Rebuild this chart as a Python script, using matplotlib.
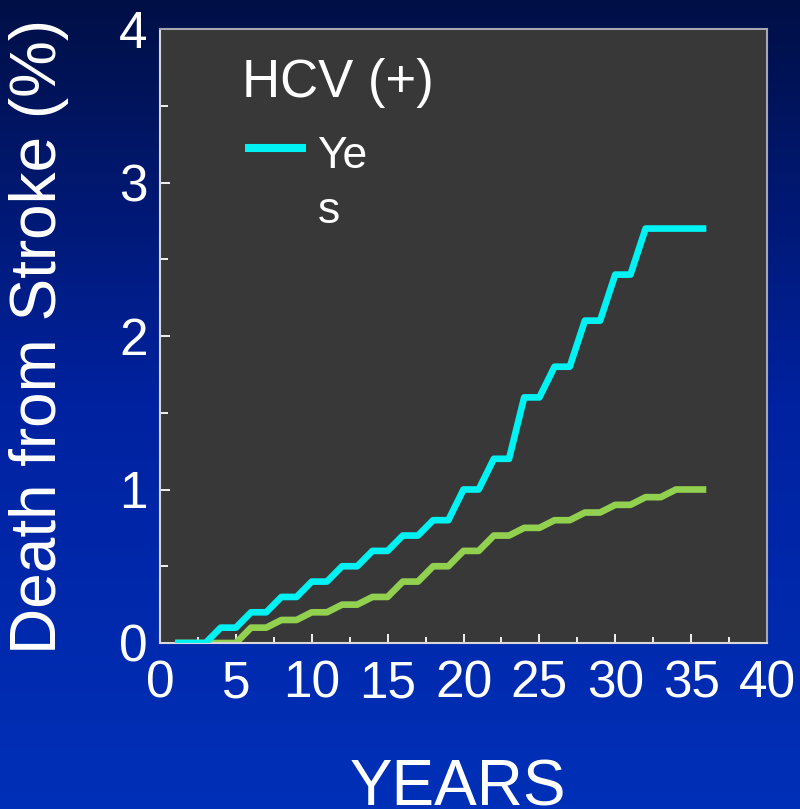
import numpy as np
import matplotlib
matplotlib.use("Agg")
import matplotlib.pyplot as plt
from matplotlib.colors import LinearSegmentedColormap
from matplotlib.ticker import MultipleLocator

plt.rcParams['font.family'] = ['Liberation Sans', 'DejaVu Sans']

# ---- data ----
years = [1, 2, 3, 4, 5, 6, 7, 8, 9, 10, 11, 12, 13, 14, 15, 16, 17, 18,
         19, 20, 21, 22, 23, 24, 25, 26, 27, 28, 29, 30, 31, 32, 33, 34, 35, 36]
hcv_yes = [0, 0, 0, 0.1, 0.1, 0.2, 0.2, 0.3, 0.3, 0.4, 0.4, 0.5, 0.5, 0.6, 0.6,
           0.7, 0.7, 0.8, 0.8, 1.0, 1.0, 1.2, 1.2, 1.6, 1.6, 1.8, 1.8, 2.1, 2.1,
           2.4, 2.4, 2.7, 2.7, 2.7, 2.7, 2.7]
hcv_no = [0, 0, 0, 0, 0, 0.1, 0.1, 0.15, 0.15, 0.2, 0.2, 0.25, 0.25, 0.3, 0.3,
          0.4, 0.4, 0.5, 0.5, 0.6, 0.6, 0.7, 0.7, 0.75, 0.75, 0.8, 0.8, 0.85,
          0.85, 0.9, 0.9, 0.95, 0.95, 1.0, 1.0, 1.0]
x_ticks = [0, 5, 10, 15, 20, 25, 30, 35, 40]
y_ticks = [0, 1, 2, 3, 4]

CYAN = '#00F2F2'
GREEN = '#92D050'

fig = plt.figure(figsize=(8.0, 8.09), dpi=100)

# background gradient
bg = fig.add_axes([0, 0, 1, 1], zorder=-10)
cmap = LinearSegmentedColormap.from_list('bg', ['#000F46', '#0022A0', '#0030B8'])
grad = np.linspace(0, 1, 256).reshape(-1, 1)
bg.imshow(grad, aspect='auto', cmap=cmap, extent=[0, 1, 0, 1], origin='upper')
bg.set_axis_off()

ax = fig.add_axes([160 / 800, 1 - 643 / 809, 607 / 800, 614 / 809])
ax.set_facecolor('#383838')

ax.plot(years, hcv_no, color=GREEN, lw=4.8, solid_capstyle='butt',
        solid_joinstyle='round', zorder=2)
ax.plot(years, hcv_yes, color=CYAN, lw=4.8, solid_capstyle='butt',
        solid_joinstyle='round', zorder=3)

ax.set_xlim(0, 40)
ax.set_ylim(0, 4)
ax.set_xticks(x_ticks)
ax.set_yticks(y_ticks)
ax.xaxis.set_minor_locator(MultipleLocator(2.5))
ax.yaxis.set_minor_locator(MultipleLocator(0.5))

ax.tick_params(axis='both', which='both', direction='in', colors='white',
               labelsize=37, width=1.3)
ax.tick_params(axis='x', which='major', length=6.5, pad=12)
ax.tick_params(axis='x', which='minor', length=4.5)
ax.tick_params(axis='y', which='major', length=7.5, pad=9)
ax.tick_params(axis='y', which='minor', length=5.5)
for lab in ax.get_xticklabels() + ax.get_yticklabels():
    lab.set_color('white')

for side in ['left', 'bottom']:
    ax.spines[side].set_color('#d8d8d8')
    ax.spines[side].set_linewidth(1.5)
for side in ['top', 'right']:
    ax.spines[side].set_color('#a8a8b0')
    ax.spines[side].set_linewidth(1.5)

ax.set_ylabel('Death from Stroke (%)', fontsize=46, color='white',
              va='center', ha='center')
ax.yaxis.set_label_coords(-0.199, 0.5)
ax.set_xlabel('YEARS', fontsize=46, color='white', va='baseline', ha='center')
ax.xaxis.set_label_coords(0.491, -0.264)

# legend (title + one entry, as in the original)
ax.text(0.135, 0.889, 'HCV (+)', transform=ax.transAxes, fontsize=38,
        color='white', ha='left', va='baseline')
ax.plot([0.140, 0.2405], [0.806, 0.806], transform=ax.transAxes, color=CYAN,
        lw=5.8, solid_capstyle='butt', clip_on=False)
ax.text(0.2587, 0.7736, 'Ye', transform=ax.transAxes, fontsize=32,
        color='white', ha='left', va='baseline')
ax.text(0.2600, 0.684, 's', transform=ax.transAxes, fontsize=32,
        color='white', ha='left', va='baseline')

fig.savefig('out.png', dpi=100)
